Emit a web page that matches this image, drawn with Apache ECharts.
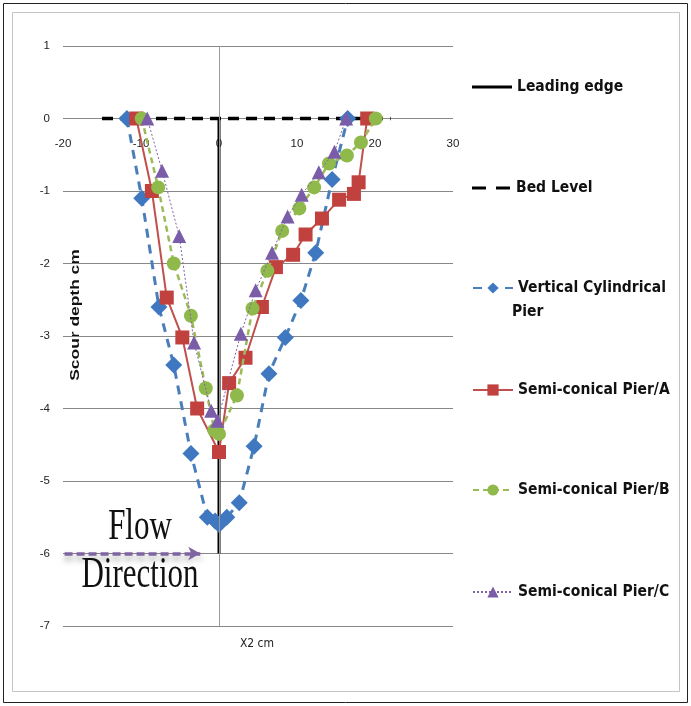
<!DOCTYPE html>
<html>
<head>
<meta charset="utf-8">
<script src="https://cdn.jsdelivr.net/npm/echarts@6/dist/echarts.min.js"></script>
<style>html,body{margin:0;padding:0;background:#fff}#c{width:691px;height:706px}</style>
</head>
<body>
<div id="c"></div>
<script>
// ---- data ----
const xTicks = [-20, -10, 0, 10, 20, 30];
const yTicks = [1, 0, -1, -2, -3, -4, -5, -6, -7];

const leadX = [0, 0];
const leadY = [0, -6];

const bedX = [-15, 22];
const bedY = [0, 0];

const cylX = [-11.8, -9.9, -7.7, -5.8, -3.6, -1.5, -0.5, 0, 1, 2.6, 4.5, 6.4, 8.5, 10.5, 12.4, 14.5, 16.5];
const cylY = [0, -1.1, -2.6, -3.4, -4.62, -5.5, -5.55, -5.6, -5.5, -5.3, -4.52, -3.52, -3.02, -2.51, -1.85, -0.84, 0];

const aX = [-10.6, -8.6, -6.7, -4.7, -2.8, 0, 1.3, 3.4, 5.5, 7.3, 9.5, 11.1, 13.2, 15.4, 17.3, 17.9, 19];
const aY = [0, -1.0, -2.47, -3.02, -4.0, -4.6, -3.65, -3.3, -2.6, -2.05, -1.88, -1.6, -1.38, -1.12, -1.04, -0.88, 0];

const bX = [-9.9, -7.8, -5.8, -3.6, -1.7, -0.6, 0, 2.3, 4.3, 6.2, 8.1, 10.3, 12.2, 14.1, 16.4, 18.2, 20.1];
const bY = [0, -0.95, -2.0, -2.72, -3.72, -4.3, -4.35, -3.82, -2.62, -2.1, -1.55, -1.24, -0.95, -0.62, -0.51, -0.33, 0];

const cX = [-9.2, -7.3, -5.1, -3.2, -1.0, -0.2, 2.8, 4.7, 6.8, 8.8, 10.6, 12.8, 14.8, 16.3];
const cY = [0, -0.72, -1.62, -3.09, -4.03, -4.17, -2.97, -2.37, -1.85, -1.35, -1.05, -0.74, -0.46, 0];

const flowArrowX = [-19.8, -2.4];
const flowArrowY = [-6, -6];

const names = ['Leading edge', 'Bed Level', 'Vertical Cylindrical Pier', 'Semi-conical Pier/A', 'Semi-conical Pier/B', 'Semi-conical Pier/C'];

// ---- helpers ----
const zip = (xs, ys) => xs.map((x, i) => [x, ys[i]]);
const narrow = "'Liberation Sans Narrow','DejaVu Sans Condensed','Roboto Condensed',sans-serif";

function leg(name, centerY, label, icon, ih) {
  return {
    data: [icon ? { name: name, icon: icon } : name], left: 467, top: centerY - 10,
    itemWidth: 40, itemHeight: ih || 14, selectedMode: false,
    formatter: label ? function () { return label; } : '{name}',
    textStyle: { fontFamily: narrow, fontWeight: 'bold', fontSize: 15.5, color: '#111', lineHeight: 20 }
  };
}

const gridTop = 46, gridBottom = 80, H = 706;
const plotH = H - gridTop - gridBottom;
// x axis crosses the y axis at y = 0
const xAxisOffset = -plotH * (0 - yTicks[yTicks.length - 1]) / (yTicks[0] - yTicks[yTicks.length - 1]);

const chart = echarts.init(document.getElementById('c'), null, { renderer: 'canvas' });
chart.setOption({
  backgroundColor: '#fff',
  animation: false,
  grid: { left: 63, right: 238, top: gridTop, bottom: gridBottom, containLabel: false },
  xAxis: {
    type: 'value', min: xTicks[0], max: xTicks[xTicks.length - 1], interval: 10,
    position: 'bottom', offset: xAxisOffset,
    axisLine: { show: false, onZero: false },
    axisTick: { show: false },
    splitLine: { show: false },
    axisLabel: { margin: 19, fontSize: 11.5, color: '#222', fontFamily: 'Liberation Sans' }
  },
  yAxis: {
    type: 'value', min: yTicks[yTicks.length - 1], max: yTicks[0], interval: 1,
    axisLine: { show: false, onZero: false },
    axisTick: { show: false },
    splitLine: { show: true, lineStyle: { color: '#888', width: 1 } },
    axisLabel: { margin: 13, fontSize: 11.5, color: '#222', fontFamily: 'Liberation Sans' }
  },
  legend: [
    leg(names[0], 82, null, 'path://M0,0H40V3H0Z', 3),
    leg(names[1], 183, null, 'path://M0,0H14V3H0Z M24,0H38V3H24Z', 3),
    leg(names[2], 283, 'Vertical Cylindrical'),
    leg(names[3], 385),
    leg(names[4], 485),
    leg(names[5], 587)
  ],
  graphic: [
    { type: 'rect', shape: { x: 3.5, y: 3.5, width: 684, height: 699 }, style: { fill: 'none', stroke: '#222', lineWidth: 1 }, silent: true },
    { type: 'rect', shape: { x: 12.5, y: 12.5, width: 667, height: 679 }, style: { fill: 'none', stroke: '#c4c4c4', lineWidth: 1 }, silent: true },
    { type: 'text', x: 512, y: 312, style: { text: 'Pier', fontFamily: narrow, fontWeight: 'bold', fontSize: 15.5, fill: '#111', verticalAlign: 'middle', align: 'left' }, silent: true },
    { type: 'text', x: 76, y: 315, rotation: Math.PI / 2, scaleX: 1.45, style: { text: 'Scour depth cm', fontFamily: 'Liberation Sans', fontWeight: 'bold', fontSize: 12, fill: '#111', align: 'center', verticalAlign: 'middle' }, silent: true },
    { type: 'text', x: 257, y: 644, style: { text: 'X2 cm', fontFamily: narrow, fontSize: 12, fill: '#222', align: 'center', verticalAlign: 'middle' }, silent: true },
    { type: 'text', x: 140, y: 528, scaleY: 1.4, style: { text: 'Flow', fontFamily: "'Liberation Serif',serif", fontSize: 31, fill: '#111', align: 'center', verticalAlign: 'middle' }, silent: true, z: 20 },
    { type: 'text', x: 140, y: 576, scaleY: 1.4, style: { text: 'Direction', fontFamily: "'Liberation Serif',serif", fontSize: 31, fill: '#111', align: 'center', verticalAlign: 'middle' }, silent: true, z: 20 }
  ],
  series: [
    {
      name: names[0], type: 'line', data: zip(leadX, leadY), showSymbol: false, symbol: 'none',
      lineStyle: { color: '#000', width: 3 }, itemStyle: { color: '#000' }, z: 3,
      markLine: {
        silent: true, symbol: 'none', label: { show: false },
        lineStyle: { color: '#999', width: 1, type: 'solid' },
        data: [{ xAxis: 0 }]
      }
    },
    {
      name: names[1], type: 'line', data: zip(bedX, bedY), showSymbol: false, symbol: 'none',
      lineStyle: { color: '#000', width: 3.5, type: [11, 7] }, itemStyle: { color: '#000' }, z: 3,
      markLine: {
        silent: true, symbol: ['none', 'arrow'], symbolSize: [10, 12], label: { show: false },
        lineStyle: { color: '#8064A2', width: 3.5, type: [8, 4], shadowColor: 'rgba(0,0,0,0.4)', shadowBlur: 6, shadowOffsetY: 4 },
        data: [[{ coord: [flowArrowX[0], flowArrowY[0]] }, { coord: [flowArrowX[1], flowArrowY[1]] }]]
      }
    },
    {
      name: names[2], type: 'line', data: zip(cylX, cylY), symbol: 'diamond', symbolSize: 17,
      lineStyle: { color: '#4A7EBB', width: 3, type: [9, 7] }, itemStyle: { color: '#3f78c0' }, z: 4
    },
    {
      name: names[3], type: 'line', data: zip(aX, aY), symbol: 'rect', symbolSize: 14,
      lineStyle: { color: '#C0504D', width: 2 }, itemStyle: { color: '#c0413d' }, z: 5
    },
    {
      name: names[4], type: 'line', data: zip(bX, bY), symbol: 'circle', symbolSize: 14,
      lineStyle: { color: '#9BBB59', width: 2.5, type: [6, 4] }, itemStyle: { color: '#8fb94b' }, z: 6
    },
    {
      name: names[5], type: 'line', data: zip(cX, cY), symbol: 'triangle', symbolSize: 14,
      lineStyle: { color: '#8064A2', width: 1, type: [2, 2] }, itemStyle: { color: '#7a5ca8' }, z: 7
    }
  ]
});
</script>
</body>
</html>
